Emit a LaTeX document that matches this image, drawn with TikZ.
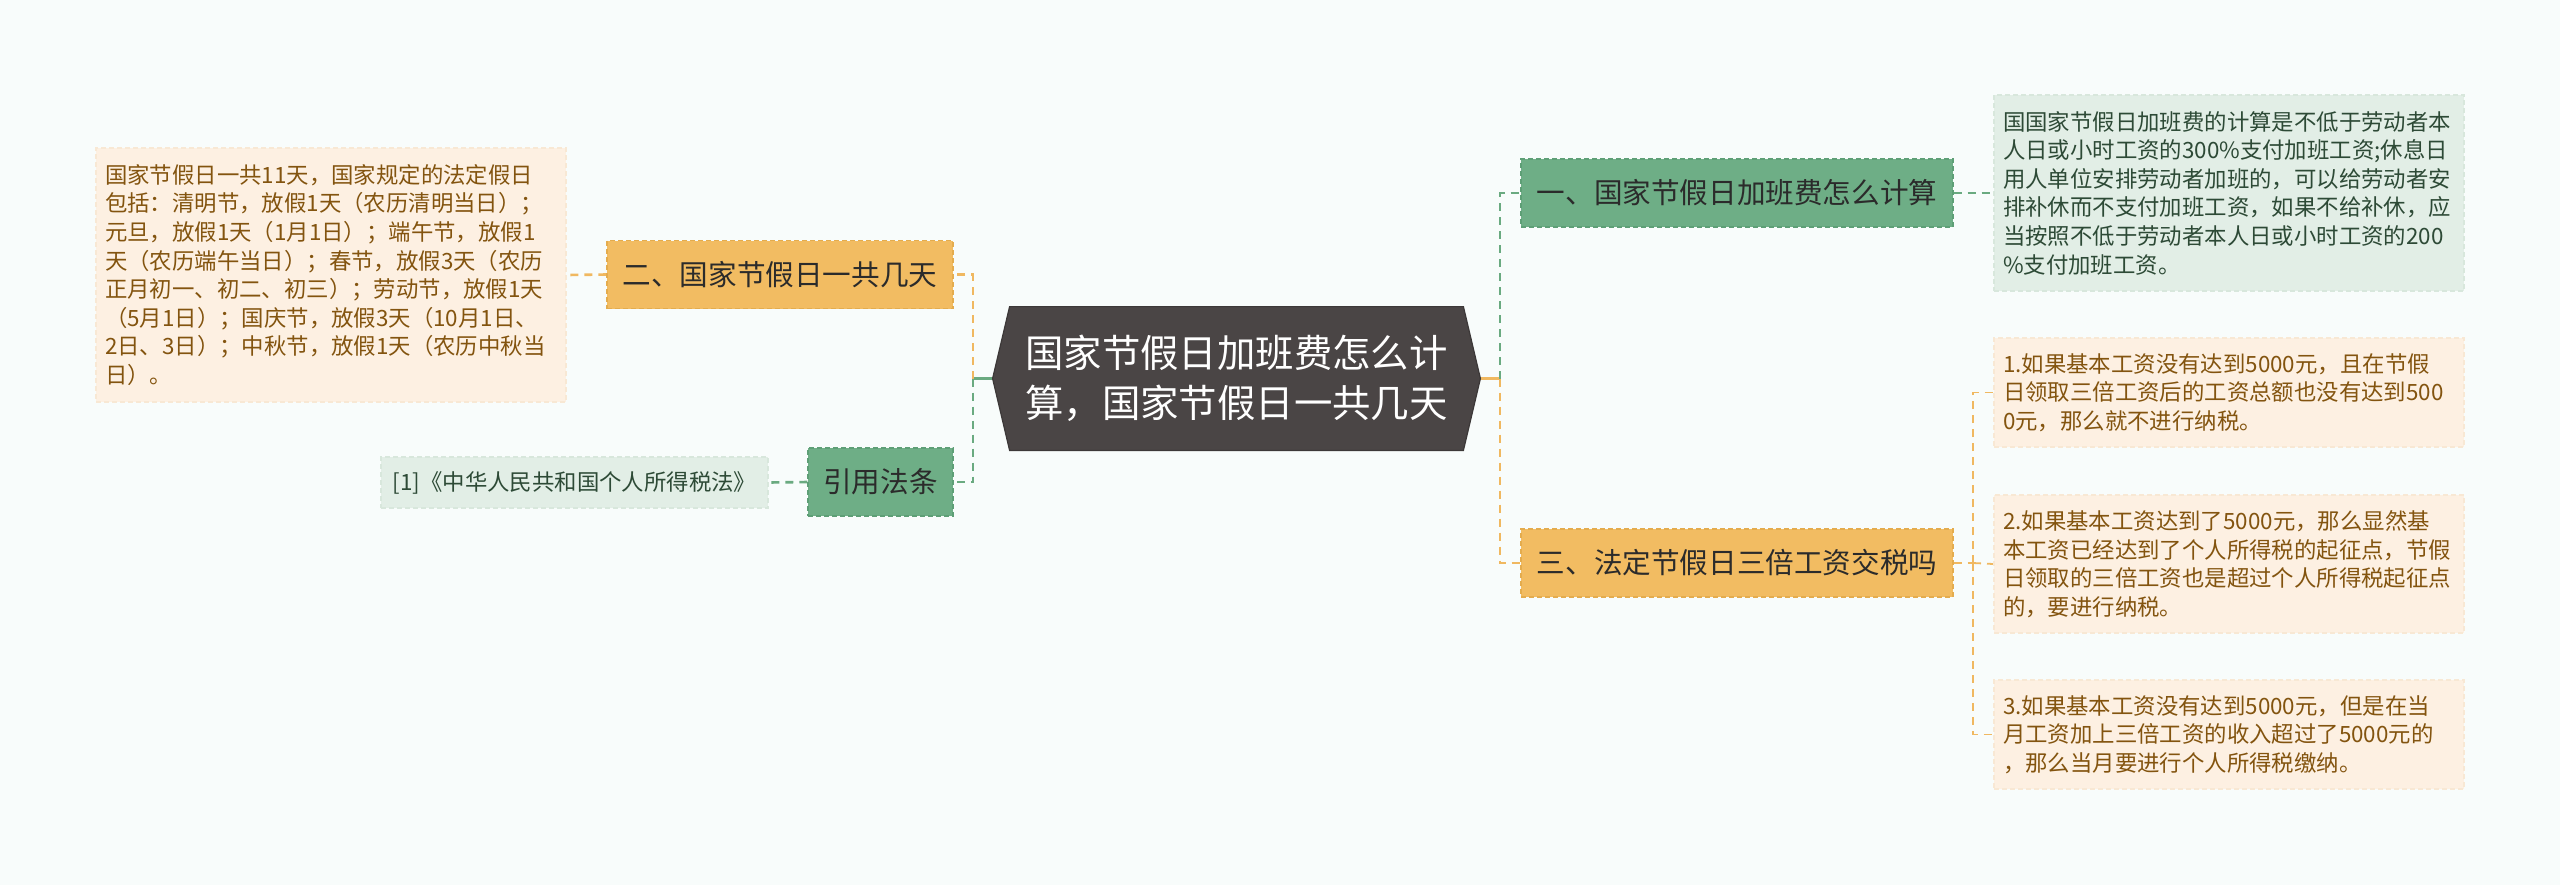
\documentclass[tikz,border=0pt]{standalone}
\usepackage{fontspec}
\setmainfont{Noto Sans CJK SC}
\usetikzlibrary{backgrounds}
\definecolor{bgc}{HTML}{F8FCFB}
\definecolor{hexc}{HTML}{4A4545}
\definecolor{hexd}{HTML}{3C3838}
\definecolor{brG}{HTML}{6EAE86}
\definecolor{brGd}{HTML}{5E9F76}
\definecolor{brO}{HTML}{F2BC62}
\definecolor{brOd}{HTML}{E4AC4E}
\definecolor{lfO}{HTML}{FDF0E2}
\definecolor{lfOd}{HTML}{F8E8D4}
\definecolor{lfG}{HTML}{E2EEE6}
\definecolor{lfGd}{HTML}{D8E7DC}
\definecolor{txtD}{HTML}{2B2B2B}
\definecolor{txtO}{HTML}{83540F}
\definecolor{txtG}{HTML}{2D4A36}
\definecolor{cG}{HTML}{6AAA80}
\definecolor{cO}{HTML}{F0B860}
\begin{document}
\begin{tikzpicture}[x=0.5pt,y=-0.5pt,
  rootnode/.style={text=white, align=center, font=\fontsize{19.2pt}{25pt}\selectfont,
    minimum width=243.5pt, minimum height=71.5pt, inner sep=0pt},
  branchbase/.style={dash pattern=on 2.5pt off 1.5pt, line width=0.6pt, text=txtD,
    font=\fontsize{14.3pt}{17pt}\selectfont, inner sep=0pt, minimum height=34pt},
  branchG/.style={branchbase, fill=brG, draw=brGd},
  branchO/.style={branchbase, fill=brO, draw=brOd},
  leafbase/.style={dash pattern=on 2.5pt off 1.5pt, line width=0.6pt,
    font=\fontsize{11.2pt}{14.3pt}\selectfont, align=left, text width=226pt,
    inner xsep=4.5pt, inner ysep=0pt},
  leafO/.style={leafbase, fill=lfO, draw=lfOd, text=txtO},
  leafG/.style={leafbase, fill=lfG, draw=lfGd, text=txtG},
  conbase/.style={line width=1.3pt, dash pattern=on 4pt off 3pt},
  conG/.style={conbase, draw=cG},
  conO/.style={conbase, draw=cO},
  solG/.style={line width=1.3pt, draw=cG},
  solO/.style={line width=1.3pt, draw=cO}
]
\useasboundingbox (0,0) rectangle (2560,885);

% root
\node[rootnode] (root) at (1236.5,378.5) {国家节假日加班费怎么计\\算，国家节假日一共几天};

% branches
\node[branchG, minimum width=216pt] (b1) at (1737,193) {一、国家节假日加班费怎么计算};
\node[branchO, minimum width=216pt] (b3) at (1737,563) {三、法定节假日三倍工资交税吗};
\node[branchO, minimum width=173pt] (b2) at (780,274.5) {二、国家节假日一共几天};
\node[branchG, minimum width=72.5pt] (bref) at (880.5,482) {引用法条};

% leaves
\node[leafO, minimum height=127pt] (l2) at (331,275) {国家节假日一共11天，国家规定的法定假日\\包括：清明节，放假1天（农历清明当日）；\\元旦，放假1天（1月1日）；端午节，放假1\\天（农历端午当日）；春节，放假3天（农历\\正月初一、初二、初三）；劳动节，放假1天\\（5月1日）；国庆节，放假3天（10月1日、\\2日、3日）；中秋节，放假1天（农历中秋当\\日）。};
\node[leafG, text width=184.5pt, align=center, minimum height=25.5pt] (lref) at (574.5,482.5) {[1]《中华人民共和国个人所得税法》};
\node[leafG, minimum height=98pt] (r0) at (2229,193) {国国家节假日加班费的计算是不低于劳动者本\\人日或小时工资的300\%支付加班工资;休息日\\用人单位安排劳动者加班的，可以给劳动者安\\排补休而不支付加班工资，如果不给补休，应\\当按照不低于劳动者本人日或小时工资的200\\\%支付加班工资。};
\node[leafO, minimum height=54.5pt] (r1) at (2229,392.5) {1.如果基本工资没有达到5000元，且在节假\\日领取三倍工资后的工资总额也没有达到500\\0元，那么就不进行纳税。};
\node[leafO, minimum height=69pt] (r2) at (2229,564) {2.如果基本工资达到了5000元，那么显然基\\本工资已经达到了个人所得税的起征点，节假\\日领取的三倍工资也是超过个人所得税起征点\\的，要进行纳税。};
\node[leafO, minimum height=54.5pt] (r3) at (2229,734.5) {3.如果基本工资没有达到5000元，但是在当\\月工资加上三倍工资的收入超过了5000元的\\，那么当月要进行个人所得税缴纳。};

\coordinate (JL) at (973,378.5);
\coordinate (JR) at (1500,378.5);
\coordinate (J3) at (1973,563);

\begin{scope}[on background layer]
  \fill[bgc] (0,0) rectangle (2560,885);
  % connectors
  \draw[solG] (root.west) -- (JL);
  \draw[conO] (JL) |- (b2.east);
  \draw[conG] (JL) |- (bref.east);
  \draw[solO] (root.east) -- (JR);
  \draw[conG] (JR) |- (b1.west);
  \draw[conO] (JR) |- (b3.west);
  \draw[conO] (b2.west) -- (l2.east);
  \draw[conG] (bref.west) -- (lref.east);
  \draw[conG] (b1.east) -- (r0.west);
  \draw[conO] (b3.east) -- (J3);
  \draw[conO, line width=0.9pt] (J3) |- (r1.west);
  \draw[conO, line width=0.9pt] (J3) |- (r3.west);
  \draw[conO, line width=0.9pt] (J3) -- (r2.west);
  % hexagon
  \filldraw[fill=hexc, draw=hexd, line width=0.6pt]
    (root.west) -- ([xshift=8.5pt]root.north west) -- ([xshift=-8.5pt]root.north east)
    -- (root.east) -- ([xshift=-8.5pt]root.south east) -- ([xshift=8.5pt]root.south west) -- cycle;
\end{scope}
\end{tikzpicture}
\end{document}
